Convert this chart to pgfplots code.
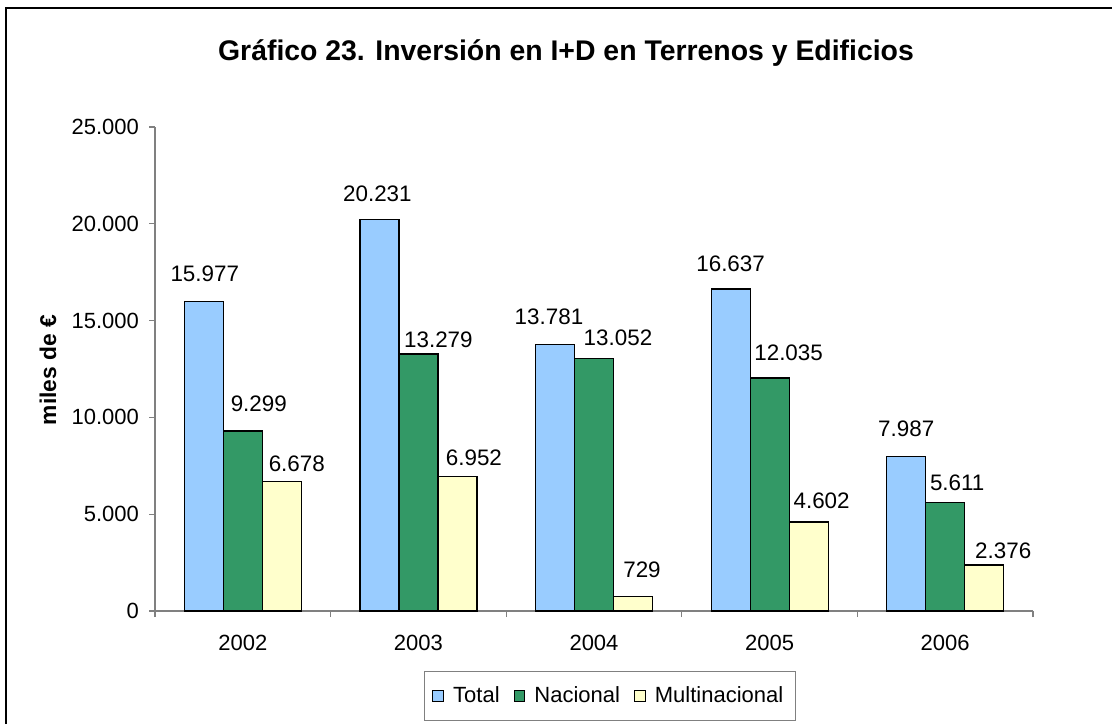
\documentclass[border=0pt]{standalone}
\usepackage{pgfplots}
\usepackage{pgfplotstable}
\pgfplotsset{compat=1.18}
\usepackage{fontspec}
\setmainfont{Liberation Sans}
\definecolor{cTotal}{HTML}{99CCFF}
\definecolor{cNac}{HTML}{339966}
\definecolor{cMul}{HTML}{FFFFCC}
\definecolor{axgray}{HTML}{808080}
% x: category, y: value, dx/dy: label offsets (px) as placed in the reference
\pgfplotstableread{
x y dx dy
0 15977 1 19
1 20231 -2 17
2 13781 -6 19
3 16637 0 17
4 7987 0 19
}\total
\pgfplotstableread{
x y dx dy
0 9299 16 19
1 13279 20 6
2 13052 24 12
3 12035 19 17
4 5611 12 11
}\nacional
\pgfplotstableread{
x y dx dy
0 6678 15 9
1 6952 16.5 10
2 729 9 19
3 4602 13 13
4 2376 19 6
}\multi
\begin{document}
\begin{tikzpicture}
\useasboundingbox (0,0) rectangle (556pt,362pt);
\draw[line width=1pt] (3pt,0pt) -- (3pt,357.8pt) -- (556pt,357.8pt);
\node[font=\fontsize{14.2}{16}\selectfont\bfseries] at (283pt,335.5pt) {Gráfico 23. Inversión en I+D en Terrenos y Edificios};
\node[font=\fontsize{11.4}{13}\selectfont\bfseries, rotate=90] at (24pt,177pt) {miles de €};
\begin{axis}[
  at={(77.5pt,56.5pt)}, anchor=south west,
  scale only axis, width=439pt, height=242pt,
  ybar=0pt, bar width=19.5pt,
  xmin=-0.5, xmax=4.5, ymin=0, ymax=25000,
  xtick={0,1,2,3,4}, xticklabels={2002,2003,2004,2005,2006},
  minor xtick={-0.5,0.5,1.5,2.5,3.5,4.5},
  ytick={0,5000,10000,15000,20000,25000},
  scaled y ticks=false,
  /pgf/number format/.cd, 1000 sep={.}, assume math mode=true, /pgfplots/.cd,
  axis x line*=bottom, axis y line*=left,
  axis line style={axgray, line width=0.8pt, -},
  x axis line style={-}, y axis line style={-},
  tick style={axgray, line width=0.6pt},
  major x tick style={draw=none},
  tick align=outside,
  major tick length=3pt, minor tick length=3pt,
  ticklabel style={font=\fontsize{11}{13}\selectfont},
  xticklabel style={yshift=-5.5pt},
  yticklabel style={xshift=-1.5pt},
  nodes near coords,
  visualization depends on={\thisrow{dx} \as \dx},
  visualization depends on={\thisrow{dy} \as \dy},
  every node near coord/.append style={font=\fontsize{11.2}{13}\selectfont, anchor=south, inner sep=0pt, xshift=\dx*0.5pt, yshift=\dy*0.5pt},
  legend columns=3,
  legend style={at={(0.518,-0.176)}, anchor=center, draw=axgray, line width=0.6pt,
    font=\fontsize{11}{13}\selectfont, inner xsep=4pt, inner ysep=5.5pt,
    /tikz/every odd column/.append style={column sep=2.5pt},
    /tikz/every even column/.append style={column sep=5pt}},
  legend image code/.code={\draw[#1, line width=0.5pt] (0pt,-2.7pt) rectangle (5.4pt,2.7pt);},
  every axis plot/.append style={draw=black, line width=0.6pt},
]
\addplot[fill=cTotal] table[x=x,y=y] {\total};
\addplot[fill=cNac] table[x=x,y=y] {\nacional};
\addplot[fill=cMul] table[x=x,y=y] {\multi};
\legend{Total,Nacional,Multinacional}
\end{axis}
\end{tikzpicture}
\end{document}
